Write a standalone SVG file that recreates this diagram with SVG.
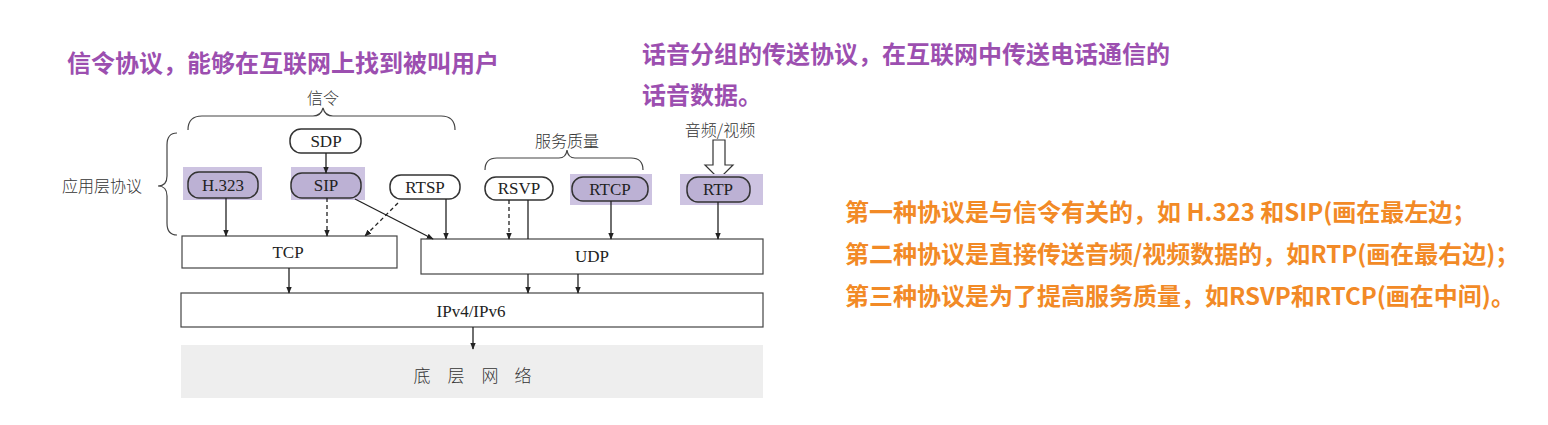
<svg xmlns="http://www.w3.org/2000/svg" width="1548" height="425" viewBox="0 0 1548 425">
<defs>
<marker id="ah" viewBox="0 0 10 10" refX="9" refY="5" markerWidth="7" markerHeight="7" markerUnits="userSpaceOnUse" orient="auto">
<path d="M0,1 L10,5 L0,9 Z" fill="#222"/>
</marker>
<style>
.lat{font-family:"Liberation Serif","Times New Roman",serif;font-size:17px;fill:#222;text-anchor:middle}
.cjk{font-family:"Noto Sans CJK SC","Noto Sans",sans-serif;font-size:16px;fill:#333;font-weight:300}
.box{fill:#fff;stroke:#333;stroke-width:1.5}
.hbox{fill:#bcb1d4;stroke:#333;stroke-width:1.5}
.hl{fill:#cdc3e1}
.layer{fill:#fff;stroke:#444;stroke-width:1.2}
.brace{fill:none;stroke:#444;stroke-width:1.2}
.c{stroke:#222;stroke-width:1.3;fill:none}
.d{stroke:#222;stroke-width:1.3;fill:none;stroke-dasharray:4,3}
.pur{font-family:"Noto Sans CJK SC","Noto Sans",sans-serif;font-size:24px;font-weight:bold;fill:#9c4fb0}
.org{font-family:"Noto Sans CJK SC","Noto Sans",sans-serif;font-size:24px;font-weight:bold;fill:#f28a26}
</style>
</defs>
<rect width="1548" height="425" fill="#fff"/>

<g id="annotations">
<text class="pur" x="67" y="72">信令协议，能够在互联网上找到被叫用户</text>
<text class="pur" x="642" y="63">话音分组的传送协议，在互联网中传送电话通信的</text>
<text class="pur" x="642" y="104">话音数据。</text>
<text class="org" x="845" y="221">第一种协议是与信令有关的，如 H.323 和SIP(画在最左边；</text>
<text class="org" x="845" y="263">第二种协议是直接传送音频/视频数据的，如RTP(画在最右边)；</text>
<text class="org" x="845" y="305">第三种协议是为了提高服务质量，如RSVP和RTCP(画在中间)。</text>
</g>

<g id="labels">
<text class="cjk" x="323" y="104" text-anchor="middle">信令</text>
<path class="brace" d="M188,130 Q188,116 202,116 L313,116 Q321,116 323,108 Q325,116 333,116 L441,116 Q455,116 455,130"/>
<text class="cjk" x="62" y="192">应用层协议</text>
<path class="brace" d="M177,133 Q167,133 167,145 L167,176 Q167,186 158,186 Q167,186 167,196 L167,223 Q167,235 177,235"/>
<text class="cjk" x="567" y="147" text-anchor="middle">服务质量</text>
<path class="brace" d="M485,170 Q485,158 497,158 L559,158 Q566,158 567,150 Q568,158 575,158 L631,158 Q643,158 643,170"/>
<text class="cjk" x="720" y="136" text-anchor="middle">音频/视频</text>
<polygon points="713,140 725,140 725,165 733,165 719,179 705,165 713,165" fill="#fff" stroke="#333" stroke-width="1.2"/>
</g>

<g id="node-sdp"><rect class="box" x="290" y="129" width="71" height="24" rx="11"/><text class="lat" x="326" y="147">SDP</text></g>
<g id="node-h323"><rect class="hl" x="183" y="167" width="79" height="33"/><rect class="hbox" x="188" y="172" width="70" height="26" rx="11"/><text class="lat" x="223" y="191">H.323</text></g>
<g id="node-sip"><rect class="hl" x="291" y="167" width="74" height="33"/><rect class="hbox" x="291" y="173" width="70" height="25" rx="11"/><text class="lat" x="326" y="191">SIP</text></g>
<g id="node-rtsp"><rect class="box" x="390" y="175" width="70" height="24" rx="11"/><text class="lat" x="425" y="193">RTSP</text></g>
<g id="node-rsvp"><rect class="box" x="485" y="177" width="68" height="23" rx="11"/><text class="lat" x="519" y="194">RSVP</text></g>
<g id="node-rtcp"><rect class="hl" x="570" y="174" width="82" height="31"/><rect class="hbox" x="572" y="177" width="76" height="24" rx="11"/><text class="lat" x="610" y="195">RTCP</text></g>
<g id="node-rtp"><rect class="hl" x="680" y="174" width="83" height="31"/><rect class="hbox" x="687" y="177" width="63" height="25" rx="11"/><text class="lat" x="718" y="195">RTP</text></g>

<g id="node-tcp"><rect class="layer" x="182" y="236" width="215" height="32"/><text class="lat" x="288" y="258">TCP</text></g>
<g id="node-udp"><rect class="layer" x="421" y="239" width="342" height="35"/><text class="lat" x="592" y="262">UDP</text></g>
<g id="node-ip"><rect class="layer" x="181" y="293" width="582" height="34"/><text class="lat" x="471" y="317">IPv4/IPv6</text></g>
<g id="node-net"><rect x="181" y="345" width="582" height="53" fill="#eeeeee"/>
<text class="cjk" x="422" y="382" text-anchor="middle" style="font-size:17px">底</text>
<text class="cjk" x="456" y="382" text-anchor="middle" style="font-size:17px">层</text>
<text class="cjk" x="490" y="382" text-anchor="middle" style="font-size:17px">网</text>
<text class="cjk" x="523" y="382" text-anchor="middle" style="font-size:17px">络</text>
</g>

<g id="connectors">
<line class="c" x1="326" y1="153" x2="326" y2="173" marker-end="url(#ah)"/>
<line class="c" x1="226" y1="198" x2="226" y2="236" marker-end="url(#ah)"/>
<line class="d" x1="327" y1="198" x2="327" y2="236" marker-end="url(#ah)"/>
<line class="d" x1="398" y1="203" x2="365" y2="236" marker-end="url(#ah)"/>
<line class="c" x1="355" y1="199" x2="433" y2="239" marker-end="url(#ah)"/>
<line class="c" x1="446" y1="199" x2="446" y2="239" marker-end="url(#ah)"/>
<line class="d" x1="509" y1="200" x2="509" y2="239" marker-end="url(#ah)"/>
<line class="c" x1="528" y1="200" x2="528" y2="239"/>
<line class="c" x1="611" y1="201" x2="611" y2="239" marker-end="url(#ah)"/>
<line class="c" x1="718" y1="202" x2="718" y2="239" marker-end="url(#ah)"/>
<line class="c" x1="289" y1="268" x2="289" y2="293" marker-end="url(#ah)"/>
<line class="c" x1="528" y1="274" x2="528" y2="293" marker-end="url(#ah)"/>
<line class="c" x1="578" y1="274" x2="578" y2="293" marker-end="url(#ah)"/>
<line class="c" x1="473" y1="327" x2="473" y2="349" marker-end="url(#ah)"/>
</g>
</svg>
